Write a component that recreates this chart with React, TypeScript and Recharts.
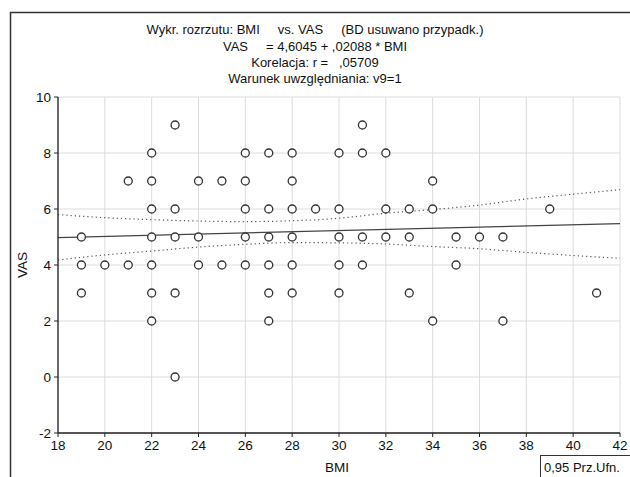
import React from 'react';
import { ComposedChart, Scatter, Line, XAxis, YAxis, CartesianGrid } from 'recharts';

// Scatter points
const bmi = [
  19, 19, 19,
  20,
  21, 21,
  22, 22, 22, 22, 22, 22, 22,
  23, 23, 23, 23, 23,
  24, 24, 24,
  25, 25,
  26, 26, 26, 26, 26,
  27, 27, 27, 27, 27, 27,
  28, 28, 28, 28, 28, 28,
  29,
  30, 30, 30, 30, 30,
  31, 31, 31, 31,
  32, 32, 32,
  33, 33, 33,
  34, 34, 34,
  35, 35,
  36,
  37, 37,
  39,
  41,
];
const vas = [
  5, 4, 3,
  4,
  7, 4,
  8, 7, 6, 5, 4, 3, 2,
  9, 6, 5, 3, 0,
  7, 5, 4,
  7, 4,
  8, 7, 6, 5, 4,
  8, 6, 5, 4, 3, 2,
  8, 7, 6, 5, 4, 3,
  6,
  8, 6, 5, 4, 3,
  9, 8, 5, 4,
  8, 6, 5,
  6, 5, 3,
  7, 6, 2,
  5, 4,
  5,
  5, 2,
  6,
  3,
];

// Regression line endpoints
const fitX = [18, 42];
const fitY = [4.98, 5.48];

// Confidence band
const bandX = [18, 20, 22, 24, 26, 28, 30, 32, 34, 36, 38, 40, 42];
const bandUpper = [5.8, 5.69, 5.62, 5.57, 5.55, 5.58, 5.67, 5.85, 5.98, 6.14, 6.36, 6.53, 6.69];
const bandLower = [4.18, 4.36, 4.5, 4.64, 4.74, 4.8, 4.79, 4.75, 4.66, 4.58, 4.45, 4.34, 4.24];

const xTicks = [18, 20, 22, 24, 26, 28, 30, 32, 34, 36, 38, 40, 42];
const yTicks = [-2, 0, 2, 4, 6, 8, 10];

const titleLines = [
  'Wykr. rozrzutu: BMI     vs. VAS     (BD usuwano przypadk.)',
  'VAS     = 4,6045 + ,02088 * BMI',
  'Korelacja: r =   ,05709',
  'Warunek uwzględniania: v9=1',
];
const xLabel = 'BMI';
const yLabel = 'VAS';
const legendText = '0,95 Prz.Ufn.';

const scatterData = bmi.map((x, i) => ({ x, y: vas[i] }));
const fitData = fitX.map((x, i) => ({ x, fit: fitY[i] }));
const bandData = bandX.map((x, i) => ({ x, upper: bandUpper[i], lower: bandLower[i] }));

const FONT = '"Liberation Sans", Arial, sans-serif';
const tickStyle = { fill: '#111', fontSize: 13.5, fontFamily: FONT };

const Dot = (props: any) => {
  const { cx, cy } = props;
  if (cx == null || cy == null) return null;
  return <circle cx={cx} cy={cy} r={4} fill="#fff" stroke="#333" strokeWidth={1.3} />;
};

export default function App() {
  return (
    <div style={{ position: 'absolute', left: 0, top: 0, width: 630, height: 477, background: '#fff', overflow: 'hidden' }}>
      <ComposedChart
        width={630}
        height={477}
        margin={{ top: 97, right: 10, bottom: 14, left: 10 }}
      >
        <CartesianGrid stroke="#dcdcdc" strokeWidth={1} />
        <XAxis
          dataKey="x"
          type="number"
          domain={[18, 42]}
          ticks={xTicks}
          allowDataOverflow
          height={30}
          tick={tickStyle}
          tickSize={4}
          tickMargin={3}
          axisLine={{ stroke: '#222', strokeWidth: 1.3 }}
          tickLine={{ stroke: '#222' }}
        />
        <XAxis
          xAxisId="top"
          orientation="top"
          dataKey="x"
          type="number"
          domain={[18, 42]}
          ticks={xTicks}
          height={0}
          mirror
          tickSize={4}
          tickFormatter={() => ''}
          axisLine={{ stroke: '#222', strokeWidth: 1.3 }}
          tickLine={{ stroke: '#222' }}
        />
        <YAxis
          type="number"
          domain={[-2, 10]}
          ticks={yTicks}
          allowDataOverflow
          width={48}
          tick={tickStyle}
          tickSize={4}
          tickMargin={3}
          axisLine={{ stroke: '#222', strokeWidth: 1.3 }}
          tickLine={{ stroke: '#222' }}
        />
        <YAxis
          yAxisId="right"
          orientation="right"
          type="number"
          domain={[-2, 10]}
          ticks={yTicks}
          width={0}
          mirror
          tickSize={4}
          tickFormatter={() => ''}
          axisLine={{ stroke: '#222', strokeWidth: 2 }}
          tickLine={{ stroke: '#222' }}
        />
        <Line
          data={bandData}
          dataKey="upper"
          type="monotone"
          stroke="#555"
          strokeWidth={1.2}
          strokeDasharray="1.2 3"
          dot={false}
          activeDot={false}
          isAnimationActive={false}
        />
        <Line
          data={bandData}
          dataKey="lower"
          type="monotone"
          stroke="#555"
          strokeWidth={1.2}
          strokeDasharray="1.2 3"
          dot={false}
          activeDot={false}
          isAnimationActive={false}
        />
        <Line
          data={fitData}
          dataKey="fit"
          type="linear"
          stroke="#444"
          strokeWidth={1.3}
          dot={false}
          activeDot={false}
          isAnimationActive={false}
        />
        <Scatter data={scatterData} dataKey="y" shape={Dot} isAnimationActive={false} />
      </ComposedChart>
      <svg
        width={630}
        height={477}
        style={{ position: 'absolute', left: 0, top: 0, pointerEvents: 'none' }}
      >
        <rect x={10.5} y={12.5} width={700} height={600} fill="none" stroke="#333" strokeWidth={1.5} />
        {titleLines.map((t, i) => (
          <text
            key={i}
            x={315}
            y={[29, 46, 62, 78][i]}
            textAnchor="middle"
            dominantBaseline="central"
            fontSize={13}
            fontFamily={FONT}
            fill="#111"
            style={{ whiteSpace: 'pre' }}
          >
            {t}
          </text>
        ))}
        <text
          x={22}
          y={265}
          transform="rotate(-90 22 265)"
          textAnchor="middle"
          dominantBaseline="central"
          fontSize={13.5}
          fontFamily={FONT}
          fill="#111"
        >
          {yLabel}
        </text>
        <text x={337} y={467} textAnchor="middle" dominantBaseline="central" fontSize={13.5} fontFamily={FONT} fill="#111">
          {xLabel}
        </text>
        <rect x={540.5} y={455.5} width={100} height={30} fill="#fff" stroke="#333" strokeWidth={1} />
        <text x={544} y={467} dominantBaseline="central" fontSize={13} fontFamily={FONT} fill="#111">
          {legendText}
        </text>
      </svg>
    </div>
  );
}
